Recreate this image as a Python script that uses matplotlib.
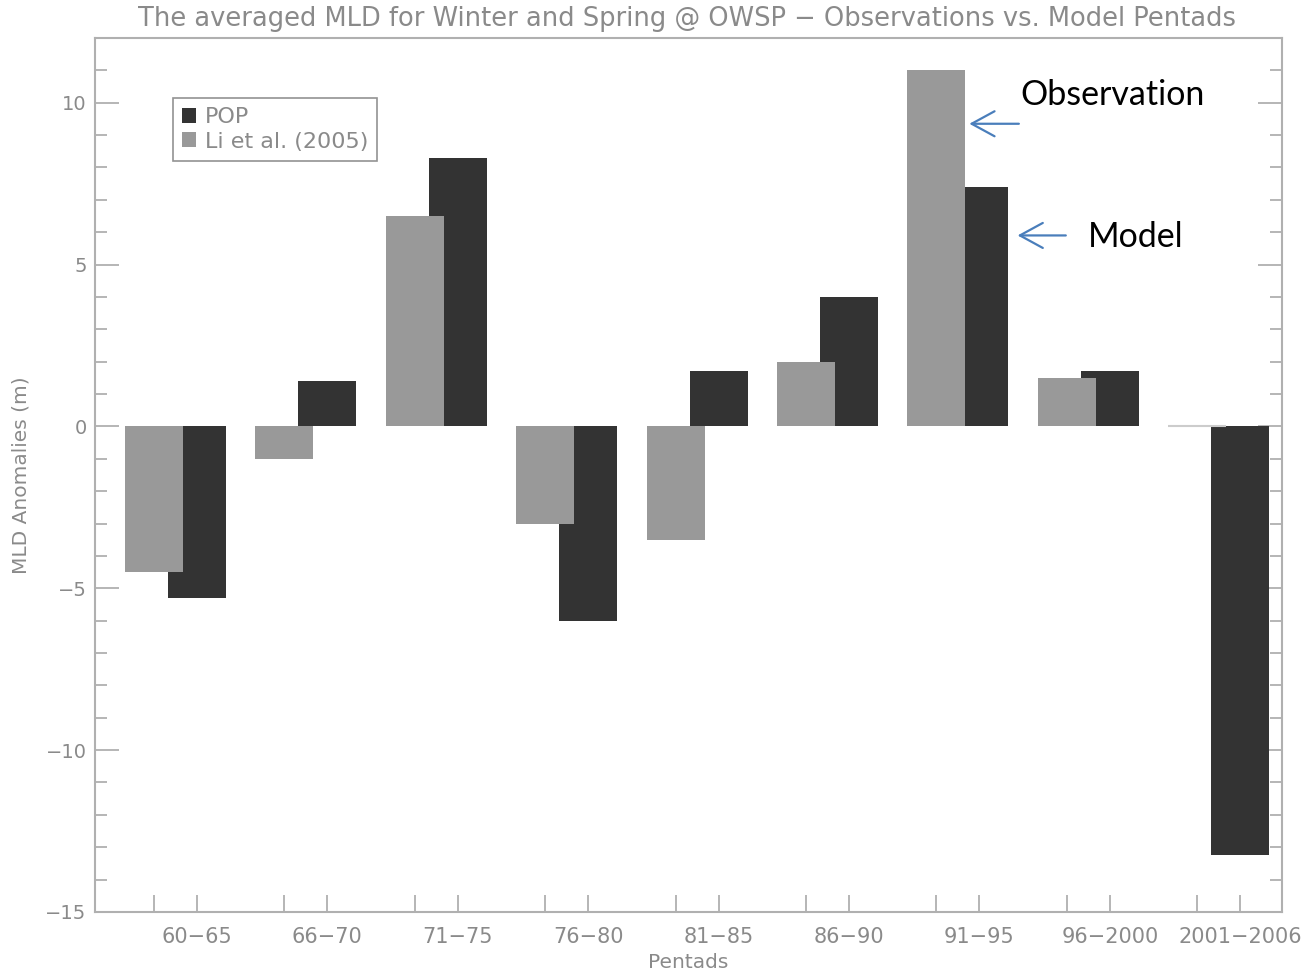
import numpy as np
import matplotlib
matplotlib.use("Agg")
import matplotlib.pyplot as plt
from matplotlib.ticker import MultipleLocator

# MLD anomalies (m) per pentad
pentads = ["60-65", "66-70", "71-75", "76-80", "81-85", "86-90", "91-95", "96-2000", "2001-2006"]
pop = [-5.3, 1.4, 8.3, -6.0, 1.7, 4.0, 7.4, 1.7, -13.25]
li2005 = [-4.5, -1.0, 6.5, -3.0, -3.5, 2.0, 11.0, 1.5, 0.0]

DARK = "#333333"
LIGHT = "#999999"
AXC = "#b0b0b0"
TXT = "#8a8a8a"
BLUE = "#4a7ebb"

x = np.arange(len(pentads))
width = 0.445
offset = 0.33

fig = plt.figure(figsize=(13.06, 9.74), dpi=100)
ax = fig.add_axes([0.0727, 0.0637, 0.9089, 0.8973])

ax.bar(x, pop, width, color=DARK, zorder=2, label="POP")
ax.bar(x - offset, li2005, width, color=LIGHT, zorder=3, label="Li et al. (2005)")
# zero-height bar still shows as a thin line
ax.hlines(0, x[-1] - offset - width / 2, x[-1] - offset + width / 2, color="#cccccc", lw=1.5, zorder=3)

ax.set_xlim(-0.782, 8.32)
ax.set_ylim(-15, 12)

for s in ax.spines.values():
    s.set_color(AXC)
    s.set_linewidth(1.5)

ax.yaxis.set_major_locator(MultipleLocator(5))
ax.yaxis.set_minor_locator(MultipleLocator(1))
ax.tick_params(axis="y", which="major", direction="in", length=17, width=1.3,
               color=AXC, left=True, right=True, labelsize=14, labelcolor=TXT, pad=6)
ax.tick_params(axis="y", which="minor", direction="in", length=8.5, width=1.3,
               color=AXC, left=True, right=True)
ax.set_yticks([-15, -10, -5, 0, 5, 10])
ax.set_yticklabels(["\u221215", "\u221210", "\u22125", "0", "5", "10"])

ax.set_xticks(np.concatenate([x - offset, x]))
ax.set_xticklabels([""] * len(x) + [p.replace("-", "\u2212") for p in pentads])
ax.tick_params(axis="x", which="major", direction="in", length=12.5, width=1.3,
               color=AXC, labelsize=15, labelcolor=TXT, pad=11, top=False)

ax.set_xlabel("Pentads", fontsize=14.5, color=TXT, labelpad=4)
ax.set_ylabel("MLD Anomalies (m)", fontsize=14.5, color=TXT, labelpad=11)
fig.text(0.526, 0.981, "The averaged MLD for Winter and Spring @ OWSP \u2212 Observations vs. Model Pentads",
         ha="center", va="center", fontsize=18.5, color=TXT)

leg = ax.legend(loc="upper left", bbox_to_anchor=(0.0657, 0.931), frameon=True, fancybox=False,
                fontsize=16, labelcolor=TXT, handlelength=0.65, handleheight=0.65,
                handletextpad=0.4, borderpad=0.4, labelspacing=0.2, borderaxespad=0)
leg.get_frame().set_edgecolor("#777777")
leg.get_frame().set_linewidth(1.2)

# callouts for the 91-95 pair
i = 6
obs_edge = x[i] - offset + width / 2
mod_edge = x[i] + width / 2
head = "->,head_length=0.55,head_width=0.3"
ax.annotate("", xy=(obs_edge + 0.03, 9.35), xytext=(obs_edge + 0.41, 9.35),
            arrowprops=dict(arrowstyle=head, color=BLUE, lw=1.6, mutation_scale=30, shrinkA=0, shrinkB=0))
ax.annotate("", xy=(mod_edge + 0.07, 5.9), xytext=(mod_edge + 0.44, 5.9),
            arrowprops=dict(arrowstyle=head, color=BLUE, lw=1.6, mutation_scale=30, shrinkA=0, shrinkB=0))
ax.text(obs_edge + 0.42, 10.25, "Observation", fontsize=24.5, family="Lato", va="center", ha="left")
ax.text(mod_edge + 0.61, 5.85, "Model", fontsize=24.5, family="Lato", va="center", ha="left")

fig.savefig("out.png", dpi=100)
